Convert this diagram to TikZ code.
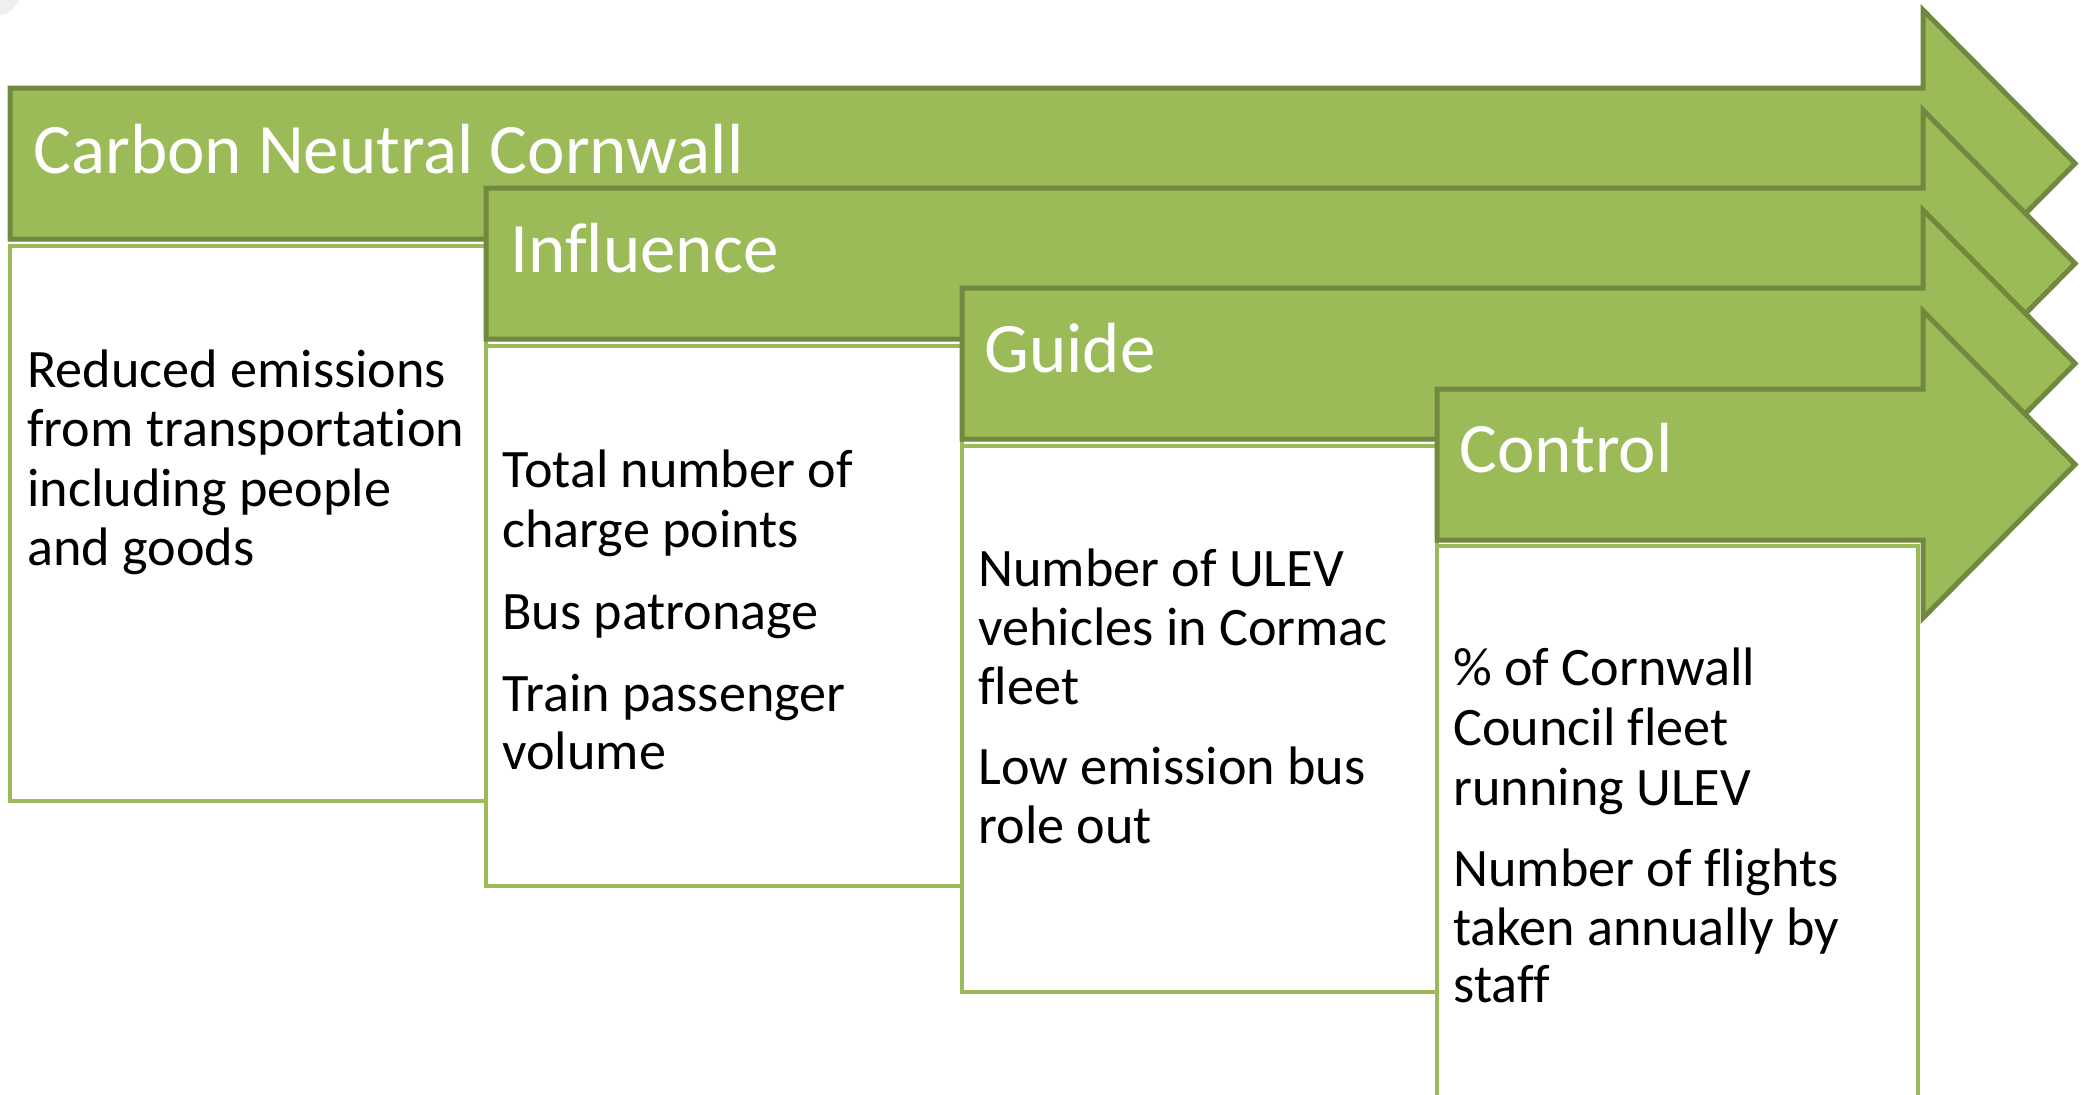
\documentclass[tikz,border=0pt]{standalone}
\usepackage{fontspec}
\setmainfont{Carlito}[Ligatures={NoCommon,NoContextual}, RawFeature={-clig;-dlig}]
\definecolor{olivefill}{HTML}{9BBB59}
\definecolor{olivedark}{HTML}{71893F}
\definecolor{cornergray}{HTML}{EFEFEF}
\tikzset{
  arrowshape/.style={fill=olivefill, draw=olivedark, line width=2.5pt, line join=miter},
  boxshape/.style={fill=white, draw=olivefill, line width=2pt},
  headtext/.style={anchor=base west, inner sep=0pt, text=white, font=\fontsize{35.5}{42}\selectfont},
  bodytext/.style={anchor=base west, inner sep=0pt, text=black, font=\fontsize{27.1}{30}\selectfont},
}
\begin{document}
\begin{tikzpicture}[x=0.5pt, y=-0.5pt]
\useasboundingbox (0,0) rectangle (2087,1094);
\begin{scope}
\clip (0,0) rectangle (2087,1094);
\fill[cornergray] (-5,-10) circle (26);
% arrow 1 and box 1
\draw[arrowshape] (10,88) -- (1923,88) -- (1923,10) -- (2075,163.5) -- (1923,317) -- (1923,239) -- (10,239) -- cycle;
\draw[boxshape] (10,246) rectangle (486,801);
% arrow 2 and box 2
\draw[arrowshape] (486,188) -- (1923,188) -- (1923,110) -- (2075,263.5) -- (1923,417) -- (1923,339) -- (486,339) -- cycle;
\draw[boxshape] (486,346) rectangle (962,886);
% arrow 3 and box 3
\draw[arrowshape] (962,288) -- (1923,288) -- (1923,210) -- (2075,363.5) -- (1923,517) -- (1923,439) -- (962,439) -- cycle;
\draw[boxshape] (962,446) rectangle (1437,992);
% arrow 4 and box 4
\draw[boxshape] (1437,546) rectangle (1918,1130);
\draw[arrowshape] (1437,389) -- (1923,389) -- (1923,311) -- (2075,464.5) -- (1923,618) -- (1923,540) -- (1437,540) -- cycle;
\end{scope}
% headers
\node[headtext] (h1) at (33,173) {Carbon Neutral Cornwall};
\node[headtext] (h2) at (510,272) {Influence};
\node[headtext] (h3) at (984,372) {Guide};
\node[headtext] (h4) at (1459,472) {Control};
% box 1
\node[bodytext] (t1a) at (27,387) {Reduced emissions};
\node[bodytext] (t1b) at (27,446.5) {from transportation};
\node[bodytext] (t1c) at (27,506) {including people};
\node[bodytext] (t1d) at (27,565) {and goods};
% box 2
\node[bodytext] (t2a) at (502,487.5) {Total number of};
\node[bodytext] (t2b) at (502,547) {charge points};
\node[bodytext] (t2c) at (502,629) {Bus patronage};
\node[bodytext] (t2d) at (502,711) {Train passenger};
\node[bodytext] (t2e) at (502,769) {volume};
% box 3
\node[bodytext] (t3a) at (978,586) {Number of ULEV};
\node[bodytext] (t3b) at (978,645.5) {vehicles in Cormac};
\node[bodytext] (t3c) at (978,704.5) {fleet};
\node[bodytext] (t3d) at (978,784) {Low emission bus};
\node[bodytext] (t3e) at (978,843) {role out};
% box 4
\node[bodytext] (t4a) at (1453,685.6) {\% of Cornwall};
\node[bodytext] (t4b) at (1453,745.5) {Council fleet};
\node[bodytext] (t4c) at (1453,805) {running ULEV};
\node[bodytext] (t4d) at (1453,886) {Number of flights};
\node[bodytext] (t4e) at (1453,945) {taken annually by};
\node[bodytext] (t4f) at (1453,1002) {staff};
\end{tikzpicture}
\end{document}
